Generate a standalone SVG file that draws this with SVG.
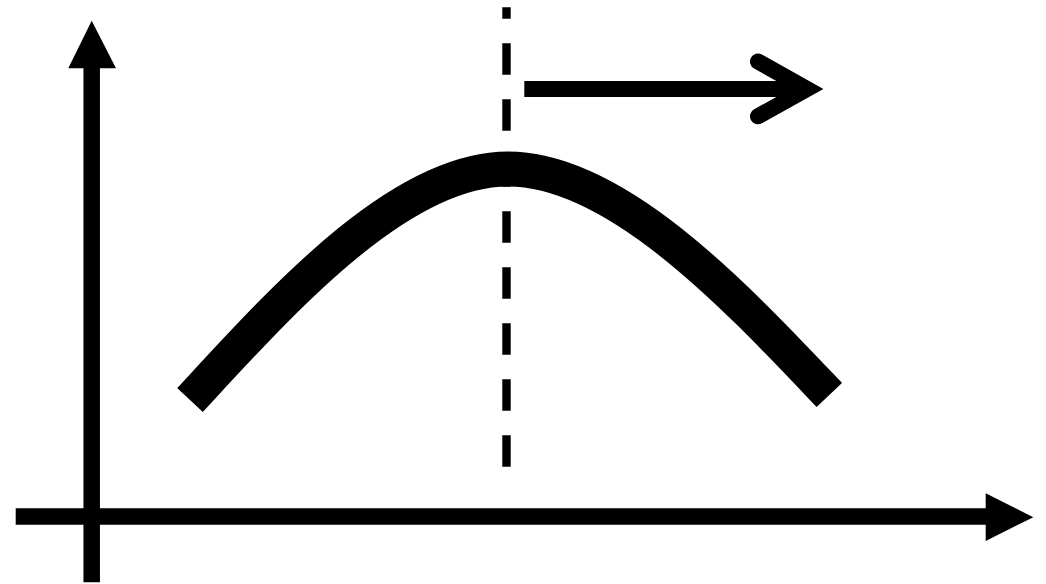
<svg xmlns="http://www.w3.org/2000/svg" width="1046" height="584" viewBox="0 0 1046 584">
<style>
.axis{stroke:#000;stroke-width:16.5;fill:none;stroke-linecap:butt}
.head{fill:#000;stroke:none}
.curve{stroke:#000;stroke-width:35;fill:none;stroke-linecap:butt}
.dash{stroke:#000;stroke-width:8.4;fill:none;stroke-dasharray:31.5 24.5;stroke-dashoffset:20}
.shift{stroke:#000;stroke-width:16;fill:none;stroke-linecap:butt}
.chev{stroke:#000;stroke-width:16;fill:none;stroke-linecap:round;stroke-linejoin:miter;stroke-miterlimit:10}
</style>
<rect width="1046" height="584" fill="#fff"/>
<g id="axes">
<line class="axis" x1="91.7" y1="582.3" x2="91.7" y2="66"/>
<polygon class="head" points="68.3,68.3 91.7,20.7 116,68.3"/>
<line class="axis" x1="15.7" y1="516.4" x2="988" y2="516.4"/>
<polygon class="head" points="985.7,493.3 1033.3,517.2 985.7,540.9"/>
</g>
<g id="curve">
<path class="curve" d="M190,400 C278.4,304.7 398,169 508,169 C618,169 739.6,300.6 829.3,395"/>
</g>
<g id="peak-line">
<line class="dash" x1="506.5" y1="7.3" x2="506.5" y2="466.7"/>
</g>
<g id="shift-arrow">
<line class="shift" x1="524.3" y1="88.9" x2="806" y2="88.9"/>
<polyline class="chev" points="758,61.5 807,88.9 758,116.3"/>
</g>
</svg>
